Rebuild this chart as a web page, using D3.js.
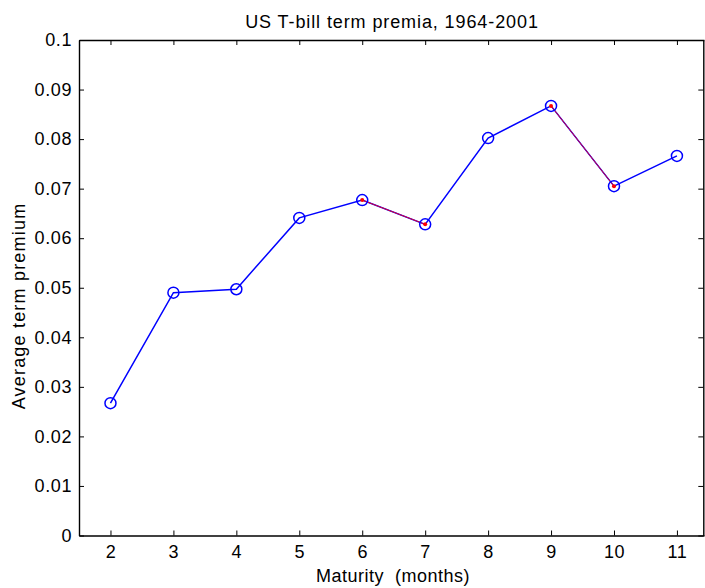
<!DOCTYPE html>
<html>
<head>
<meta charset="utf-8">
<script src="https://cdn.jsdelivr.net/npm/d3@7"></script>
<style>
  body { margin: 0; background: #fff; }
  svg { display: block; font-family: "Liberation Sans", Arial, sans-serif; }
</style>
</head>
<body>
<div id="chart"></div>
<script>
// maturities in months and the average premium for each
const maturities = [2, 3, 4, 5, 6, 7, 8, 9, 10, 11];
const premia = [0.0267, 0.0490, 0.0497, 0.0641, 0.0677, 0.0628, 0.0802, 0.0867, 0.0705, 0.0766];
// red overlay pieces (pairs of maturities)
const redSegments = [[6, 7], [9, 10]];
const xTicks = [2, 3, 4, 5, 6, 7, 8, 9, 10, 11];
const yTicks = [0, 0.01, 0.02, 0.03, 0.04, 0.05, 0.06, 0.07, 0.08, 0.09, 0.1];

const width = 705, height = 588;
const margin = { top: 40, right: 1, bottom: 52.5, left: 79 };

const svg = d3.select("#chart").append("svg")
    .attr("width", width)
    .attr("height", height);

let x = d3.scaleLinear()
    .domain([1.5, 11.43])
    .range([margin.left, width - margin.right]);

let y = d3.scaleLinear()
    .domain([0, 0.1])
    .range([height - margin.bottom, margin.top]);

const data = maturities.map((m, i) => ({ m: m, v: premia[i] }));
const lookup = new Map(data.map(d => [d.m, d.v]));

// axes, MATLAB style: ticks inward on all four sides
let styleAxis = g => {
    g.select(".domain").attr("stroke", "#000").attr("stroke-width", 1.4);
    g.selectAll(".tick line").attr("stroke", "#000");
    g.selectAll(".tick text").attr("fill", "#000").style("font-size", "18px").style("letter-spacing", "0.6px");
};

svg.append("g")
    .attr("transform", `translate(0,${y(0)})`)
    .call(d3.axisBottom(x).tickValues(xTicks).tickSize(-5).tickSizeOuter(0).tickPadding(10))
    .call(styleAxis);

svg.append("g")
    .attr("transform", `translate(0,${y(0.1)})`)
    .call(d3.axisTop(x).tickValues(xTicks).tickSize(-5).tickSizeOuter(0).tickFormat(""))
    .call(styleAxis);

svg.append("g")
    .attr("transform", `translate(${x(1.5)},0)`)
    .call(d3.axisLeft(y).tickValues(yTicks).tickSize(-5).tickSizeOuter(0).tickPadding(7)
        .tickFormat(d => d === 0 ? "0" : d3.format("")(+d.toFixed(2))))
    .call(styleAxis);

svg.append("g")
    .attr("transform", `translate(${x(11.43) - 0.7},0)`)
    .call(d3.axisRight(y).tickValues(yTicks).tickSize(-5).tickSizeOuter(0).tickFormat(""))
    .call(styleAxis);

// main line
let line = d3.line().x(d => x(d.m)).y(d => y(d.v));

svg.append("path")
    .datum(data)
    .attr("fill", "none")
    .attr("stroke", "#0000ff")
    .attr("stroke-width", 1.5)
    .attr("d", line);

// red overlay
redSegments.forEach(seg => {
    let pts = seg.map(m => ({ m: m, v: lookup.get(m) }));
    svg.append("path")
        .datum(pts)
        .attr("fill", "none")
        .attr("stroke", "#e00030")
        .attr("stroke-width", 1)
        .attr("d", line);
    svg.append("g").selectAll("circle")
        .data(pts)
        .join("circle")
        .attr("cx", d => x(d.m))
        .attr("cy", d => y(d.v))
        .attr("r", 2)
        .attr("fill", "#ff0000");
});

// markers
svg.append("g")
    .selectAll("circle")
    .data(data)
    .join("circle")
    .attr("cx", d => x(d.m))
    .attr("cy", d => y(d.v))
    .attr("r", 5.5)
    .attr("fill", "none")
    .attr("stroke", "#0000ff")
    .attr("stroke-width", 1.5);

// titles
svg.append("text")
    .attr("x", 392)
    .attr("y", 28)
    .attr("text-anchor", "middle")
    .style("font-size", "18px")
    .style("letter-spacing", "0.9px")
    .text("US T-bill term premia, 1964-2001");

svg.append("text")
    .attr("x", 393)
    .attr("y", 582)
    .attr("text-anchor", "middle")
    .style("font-size", "18px")
    .style("letter-spacing", "0.5px")
    .attr("xml:space", "preserve")
    .text("Maturity  (months)");

svg.append("text")
    .attr("transform", "translate(25,306) rotate(-90)")
    .attr("text-anchor", "middle")
    .style("font-size", "18px")
    .style("letter-spacing", "1.2px")
    .text("Average term premium");
</script>
</body>
</html>
